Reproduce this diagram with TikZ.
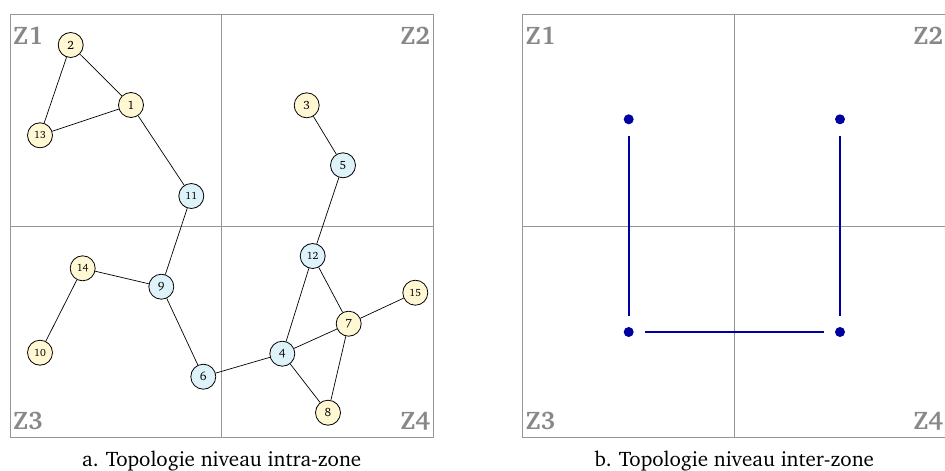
\documentclass[tikz,border=0pt]{standalone}
\usepackage[T1]{fontenc}
\usepackage{charter}
\definecolor{ylw}{RGB}{255,248,210}
\definecolor{blu}{RGB}{222,242,250}
\definecolor{framegray}{RGB}{150,150,150}
\definecolor{zgray}{RGB}{136,136,136}
\definecolor{dblue}{RGB}{0,0,160}
\tikzset{
  frame/.style={draw=framegray, line width=1pt},
  zlab/.style={text=zgray, font=\fontsize{25.5}{25.5}\selectfont\bfseries, inner sep=0pt},
  yn/.style={circle, draw=black, line width=0.8pt, fill=ylw, minimum size=25pt, inner sep=0pt, font=\fontsize{12}{12}\selectfont},
  bn/.style={yn, fill=blu},
  ynd/.style={yn, font=\fontsize{10.5}{10.5}\selectfont},
  bnd/.style={bn, font=\fontsize{10.5}{10.5}\selectfont},
  edge/.style={draw=black, line width=0.7pt},
  dotnode/.style={circle, fill=dblue, minimum size=10pt, inner sep=0pt},
  link/.style={draw=dblue, line width=2pt, shorten <=11pt, shorten >=11pt},
  caption/.style={font=\fontsize{21}{21}\selectfont, inner sep=0pt, anchor=base}
}
\begin{document}
\begin{tikzpicture}[x=1pt,y=-1pt]
\useasboundingbox (0,0) rectangle (945,471);
% ---------- panel a ----------
\draw[frame] (10,14.5) rectangle (433.5,437.5);
\draw[frame] (221.7,14.5) -- (221.7,437.5);
\draw[frame] (10,226) -- (433.5,226);
\node[zlab, anchor=north west] (az1) at (13,26.5) {Z1};
\node[zlab, anchor=north east] (az2) at (430.5,26.5) {Z2};
\node[zlab, anchor=base west] (az3) at (13,429.3) {Z3};
\node[zlab, anchor=base east] (az4) at (430.5,429.3) {Z4};

\node[yn] (n2) at (70.7,45) {2};
\node[yn] (n1) at (131,105) {1};
\node[ynd] (n13) at (40,135.3) {13};
\node[bnd] (n11) at (191.3,196) {11};
\node[yn] (n3) at (306.7,105.3) {3};
\node[bn] (n5) at (343,165.3) {5};
\node[ynd] (n14) at (82.7,268.3) {14};
\node[bn] (n9) at (161.3,286.7) {9};
\node[ynd] (n10) at (40,352.7) {10};
\node[bn] (n6) at (203.3,376.7) {6};
\node[bnd] (n12) at (312.7,256) {12};
\node[ynd] (n15) at (415.3,292.7) {15};
\node[yn] (n7) at (348.7,323.7) {7};
\node[bn] (n4) at (282.3,353.7) {4};
\node[yn] (n8) at (328,412.7) {8};

\draw[edge] (n2) -- (n1);
\draw[edge] (n2) -- (n13);
\draw[edge] (n13) -- (n1);
\draw[edge] (n1) -- (n11);
\draw[edge] (n11) -- (n9);
\draw[edge] (n3) -- (n5);
\draw[edge] (n5) -- (n12);
\draw[edge] (n14) -- (n9);
\draw[edge] (n14) -- (n10);
\draw[edge] (n9) -- (n6);
\draw[edge] (n6) -- (n4);
\draw[edge] (n12) -- (n4);
\draw[edge] (n12) -- (n7);
\draw[edge] (n7) -- (n15);
\draw[edge] (n4) -- (n7);
\draw[edge] (n4) -- (n8);
\draw[edge] (n7) -- (n8);

\node[caption] (capa) at (221.7,466.7) {a. Topologie niveau intra-zone};

% ---------- panel b ----------
\draw[frame] (522.3,14.5) rectangle (946,437.5);
\draw[frame] (734.3,14.5) -- (734.3,437.5);
\draw[frame] (522.3,226) -- (946,226);
\node[zlab, anchor=north west] (bz1) at (525.5,26.5) {Z1};
\node[zlab, anchor=north east] (bz2) at (943.5,26.5) {Z2};
\node[zlab, anchor=base west] (bz3) at (525.5,429.3) {Z3};
\node[zlab, anchor=base east] (bz4) at (943.5,429.3) {Z4};

\node[dotnode] (d1) at (628.7,119.3) {};
\node[dotnode] (d2) at (840,119.3) {};
\node[dotnode] (d3) at (628.7,332) {};
\node[dotnode] (d4) at (840,332) {};
\draw[link] (d1) -- (d3);
\draw[link] (d2) -- (d4);
\draw[link] (d3) -- (d4);

\node[caption] (capb) at (734.3,466.7) {b. Topologie niveau inter-zone};
\end{tikzpicture}
\end{document}
